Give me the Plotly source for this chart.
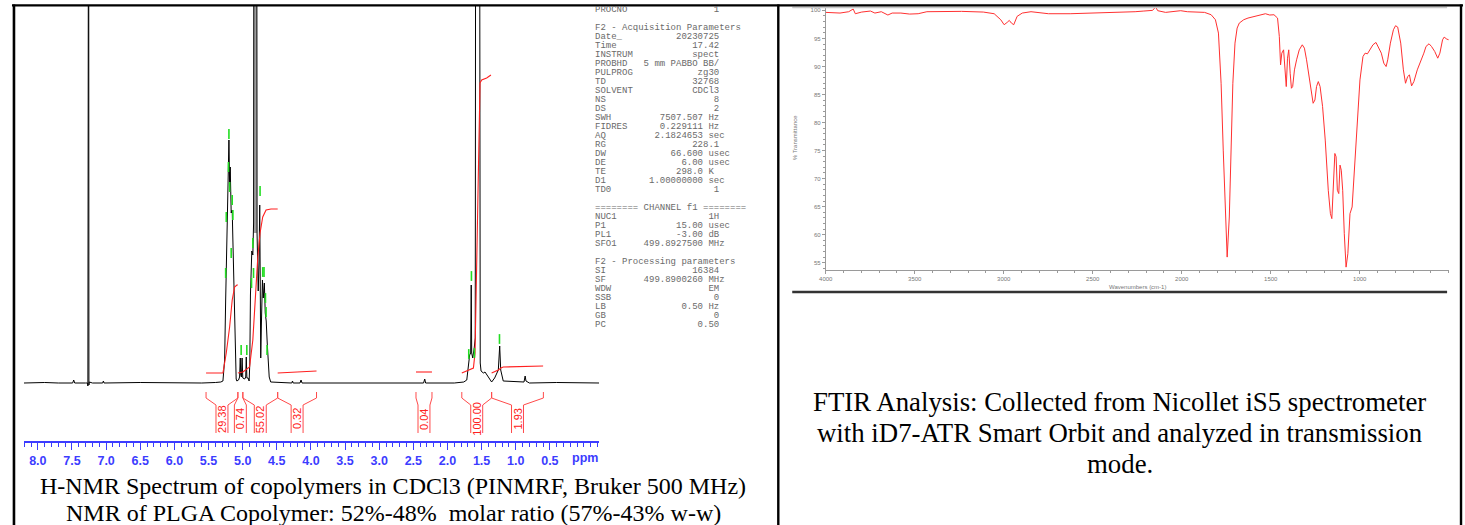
import plotly.graph_objects as go

W, H = 1465, 525

# ---------------- 1H-NMR spectrum (ppm, intensity) ----------------
nmr_ppm = [8.204, 7.90, 7.70, 7.49, 7.475, 7.46, 7.30, 7.272, 7.267, 7.263, 7.256, 7.252, 7.246,
           7.20, 7.05, 7.04, 7.03, 6.50, 6.00, 5.60, 5.40, 5.32, 5.289, 5.264, 5.249, 5.230,
           5.216, 5.201, 5.191, 5.182, 5.168, 5.153, 5.143, 5.133, 5.118, 5.103, 5.095, 5.085,
           5.06, 5.045, 5.035, 5.028, 5.018, 5.008, 4.998, 4.97, 4.955, 4.947, 4.938, 4.92,
           4.905, 4.895, 4.886, 4.866, 4.851, 4.840, 4.833, 4.795,
           4.789, 4.772, 4.760, 4.750, 4.742, 4.735, 4.725, 4.710, 4.698, 4.682, 4.669,
           4.655, 4.640, 4.628, 4.611, 4.589, 4.40, 4.28, 4.27, 4.26, 4.16, 4.145, 4.13, 3.50,
           2.80, 2.35, 2.333, 2.32, 1.90, 1.761, 1.717, 1.692, 1.675, 1.660, 1.652, 1.645,
           1.630, 1.608, 1.593, 1.585, 1.532, 1.520, 1.508, 1.474, 1.450, 1.401, 1.353, 1.309,
           1.255, 1.235, 1.220, 1.183, 0.879, 0.862, 0.850, 0.80, 0.40, -0.222]
nmr_int = [0, 0.5, 0, 0, 3, 0, 0, 0, -3, 700, 700, -2, 1,
           0, 0, 2, 0, 0.5, 0, 0, 0.5, 1, 2, 23, 83, 156,
           206, 243, 200, 216, 170, 173, 143, 116, 83, 16, 4, 2,
           3, 6, 25, 8, 6, 25, 5, 4, 6, 26, 5, 5,
           2, 20, 88, 132, 128, 160, 700, 700,
           150, 92, 120, 178, 60, 25, 60, 103, 85, 100, 70,
           62, 40, 22, 6, 1, 0, 0, 2, 0, 0, 3, 0, 0,
           0.5, 0, 4, 0, 0, 1, 3, 20, 28, 30, 98, 30,
           25, 35, 45, 700, 700, 20, 12, 10, 11, 6, 1, 5,
           13, 37, 13, 2, 1, 7, 2, 0, 0.5, 0]

# dense (unresolved) tall band of the 4.8 ppm multiplet
band_ppm = [4.833, 4.833, 4.795, 4.795]
band_int = [150, 700, 700, 150]

# peak-pick marks
peak_ppm = [5.201, 5.208, 5.191, 5.153, 5.143, 5.240, 5.168, 5.249, 5.022, 4.939, 4.851,
            4.745, 4.706, 4.687, 4.841, 4.870, 4.666, 4.657, 4.643, 1.649, 1.688, 1.605, 1.238]
peak_int = [249, 216, 196, 183, 168, 166, 130, 110, 33, 33, 140,
            192, 111, 111, 110, 100, 85, 71, 33, 107, 29, 30, 44]

# integral curves (None separates regions)
integ_ppm = [5.536, 5.289, 5.240, 5.191, 5.153, 5.118, 5.085, 5.070, None,
             5.070, 4.997, None,
             4.997, 4.95, 4.899, 4.851, 4.818, 4.778, 4.745, 4.706, 4.657, 4.585, 4.487, None,
             4.487, 3.918, None,
             2.461, 2.227, None,
             1.790, 1.620, 1.596, 1.571, 1.547, 1.523, 1.499, 1.426, 1.363, None,
             1.353, 1.255, 1.217, 1.183, 0.599]
integ_val = [10, 10, 30, 56, 83, 96, 98, 98, None,
             10, 11, None,
             11, 13, 16, 43, 83, 126, 150, 166, 173, 174, 174, None,
             10, 12, None,
             11, 11, None,
             10, 15, 30, 123, 223, 300, 303, 305, 308, None,
             10, 13, 15, 16, 17]

region_left = [5.536, 5.070, 4.997, 4.487, 2.461, 1.790, 1.353]
region_right = [5.070, 4.997, 4.487, 3.918, 2.227, 1.353, 0.595]
region_value = ["29.38", "0.74", "55.02", "0.32", "0.04", "100.00", "1.93"]

nmr_tickvals = [8.0, 7.5, 7.0, 6.5, 6.0, 5.5, 5.0, 4.5, 4.0, 3.5, 3.0, 2.5, 2.0, 1.5, 1.0, 0.5]

# ---------------- acquisition / processing parameters ----------------
param_labels = ["PROCNO", "", "F2 - Acquisition Parameters", "Date_", "Time", "INSTRUM", "PROBHD",
                "PULPROG", "TD", "SOLVENT", "NS", "DS", "SWH", "FIDRES", "AQ", "RG", "DW", "DE",
                "TE", "D1", "TD0", "", "======== CHANNEL f1 ========", "NUC1", "P1", "PL1", "SFO1",
                "", "F2 - Processing parameters", "SI", "SF", "WDW", "SSB", "LB", "GB", "PC"]
param_values = ["1", "", "", "20230725", "17.42", "spect", "5 mm PABBO BB/",
                "zg30", "32768", "CDCl3", "8", "2", "7507.507", "0.229111", "2.1824653", "228.1",
                "66.600", "6.00", "298.0", "1.00000000", "1", "", "", "1H", "15.00", "-3.00",
                "499.8927500", "", "", "16384", "499.8900260", "EM", "0", "0.50", "0", "0.50"]
param_units = ["", "", "", "", "", "", "", "", "", "", "", "", "Hz", "Hz", "sec", "", "usec", "usec",
               "K", "sec", "", "", "", "", "usec", "dB", "MHz", "", "", "", "MHz", "", "", "Hz", "", ""]

# ---------------- FTIR spectrum ----------------
ftir_wn = [4000, 3968, 3920, 3871, 3846, 3834, 3798, 3749, 3724, 3688, 3651, 3627, 3578, 3529, 3481,
           3432, 3359, 3237, 3115, 3054, 3017, 2998, 2981, 2969, 2957, 2944, 2925, 2896, 2847, 2798,
           2749, 2627, 2506, 2384, 2262, 2213, 2164, 2147, 2135, 2091, 2042, 2006, 1969, 1872, 1835,
           1811, 1794, 1779, 1767, 1755, 1745, 1733, 1725, 1713, 1701, 1689, 1677, 1652, 1628, 1591,
           1555, 1530, 1506, 1482, 1462, 1452, 1445, 1438, 1428, 1421, 1413, 1406, 1399, 1391, 1384,
           1377, 1367, 1355, 1340, 1323, 1311, 1299, 1287, 1274, 1262, 1252, 1243, 1233, 1223, 1209,
           1194, 1177, 1165, 1157, 1148, 1140, 1133, 1126, 1118, 1111, 1104, 1096, 1087, 1077, 1067,
           1055, 1043, 1031, 1018, 999, 982, 970, 957, 945, 926, 909, 896, 879, 865, 852,
           843, 828, 811, 799, 787, 770, 755, 743, 731, 721, 709, 696, 677, 657, 640,
           628, 611, 597, 579, 562, 550, 535, 526, 511, 500]
ftir_t = [99.64, 99.64, 99.52, 99.76, 100.24, 99.40, 99.70, 99.88, 99.52, 99.76, 99.17, 99.52, 99.52, 99.34, 99.40,
          99.76, 99.82, 99.82, 99.70, 99.40, 98.33, 97.44, 97.85, 98.21, 97.73, 97.44, 98.93, 99.52, 99.76, 99.52,
          99.40, 99.40, 99.52, 99.52, 99.76, 99.88, 100.0, 100.6, 99.94, 99.64, 99.88, 99.94, 99.76, 99.64, 99.22,
          98.33, 95.95, 87.0, 75.08, 63.15, 56.00, 63.15, 75.08, 87.0, 94.16, 96.84, 97.73, 98.33, 98.63, 98.93,
          99.22, 99.40, 99.17, 99.22, 98.63, 95.35, 90.28, 92.37, 92.96, 89.98, 86.41, 91.47, 92.96, 88.79, 86.11,
          86.41, 89.39, 91.18, 92.96, 93.86, 93.26, 91.18, 88.79, 85.81, 83.43, 84.02, 86.41, 87.30, 86.41, 82.83,
          76.87, 67.92, 63.75, 62.86, 68.52, 74.48, 73.89, 67.92, 67.33, 72.40, 71.50, 67.92, 60.17, 54.21, 56.60,
          63.75, 64.94, 70.91, 79.25, 87.60, 91.77, 92.37, 92.25, 92.96, 93.86, 94.28, 93.56, 92.37, 90.58, 89.98,
          91.18, 94.16, 96.54, 97.26, 97.02, 94.16, 89.39, 87.00, 88.20, 88.49, 86.53, 87.30, 89.39, 90.88, 92.37,
          93.56, 94.04, 93.56, 92.67, 91.47, 92.37, 94.75, 95.23, 94.87, 94.75]
ftir_xticks = [4000, 3500, 3000, 2500, 2000, 1500, 1000]
ftir_yticks = [55, 60, 65, 70, 75, 80, 85, 90, 95, 100]

caption_nmr = ["H-NMR Spectrum of copolymers in CDCl3 (PINMRF, Bruker 500 MHz)",
               "NMR of PLGA Copolymer: 52%-48%\u00a0\u00a0molar ratio (57%-43% w-w)"]
caption_ftir = ["FTIR Analysis: Collected from Nicollet iS5 spectrometer",
                "with iD7-ATR Smart Orbit and analyzed in transmission",
                "mode."]


def px(x):
    return x / W


def py(y):
    return 1 - y / H


BLUE = "#3c3cff"
RED = "#ff2020"
SERIF = "Liberation Serif, Times New Roman, serif"
SANS = "Liberation Sans, Arial, sans-serif"

fig = go.Figure()

# grey band of the unresolved tall multiplet
fig.add_trace(go.Scatter(x=band_ppm, y=band_int, mode="lines", fill="toself", fillcolor="#9c9c9c",
                         xaxis="x", yaxis="y", line=dict(color="#9c9c9c", width=0.5), hoverinfo="skip"))
# NMR spectrum
fig.add_trace(go.Scatter(x=nmr_ppm, y=nmr_int, mode="lines", xaxis="x", yaxis="y",
                         line=dict(color="black", width=1), hoverinfo="skip"))
# integrals
fig.add_trace(go.Scatter(x=integ_ppm, y=integ_val, mode="lines", xaxis="x", yaxis="y",
                         line=dict(color=RED, width=1.1), hoverinfo="skip"))
# integral brackets
d = 0.0875
bx, by = [], []
for L, R in zip(region_left, region_right):
    c = (L + R) / 2
    bx += [L, L, c + d, c + d, None, R, R, c - d, c - d, None]
    by += [-9, -15, -22, -50, None, -9, -15, -22, -50, None]
fig.add_trace(go.Scatter(x=bx, y=by, mode="lines", xaxis="x", yaxis="y",
                         line=dict(color="#ff4a4a", width=1), hoverinfo="skip"))
# peak picks
fig.add_trace(go.Scatter(x=peak_ppm, y=peak_int, mode="markers", xaxis="x", yaxis="y",
                         marker=dict(symbol="line-ns", size=7, line=dict(color="#22dd22", width=1.6)),
                         hoverinfo="skip"))
# FTIR
fig.add_trace(go.Scatter(x=ftir_wn, y=ftir_t, mode="lines", xaxis="x2", yaxis="y2",
                         line=dict(color="#ff3030", width=1), hoverinfo="skip"))

ann = []
for L, R, v in zip(region_left, region_right, region_value):
    ann.append(dict(x=(L + R) / 2, y=-36, xref="x", yref="y", text=v, textangle=-90, showarrow=False,
                    xanchor="center", yanchor="middle",
                    font=dict(family=SANS, size=11, color="#ff2020")))
ann.append(dict(x=px(581), y=py(458), xref="paper", yref="paper", text="ppm", showarrow=False,
                xanchor="center", yanchor="middle",
                font=dict(family=SANS, size=12.5, color=BLUE, weight="bold")))

# parameter list
for k, (lab, val, unit) in enumerate(zip(param_labels, param_values, param_units)):
    if val == "":
        line = lab
    else:
        end = 20 if unit else 23
        line = lab + " " * max(1, end - len(lab) - len(val)) + val + (" " + unit if unit else "")
    if not line:
        continue
    ann.append(dict(x=px(589), y=py(10 + 9 * k), xref="paper", yref="paper", xanchor="left",
                    yanchor="middle", text=line.replace(" ", "\u00a0"), showarrow=False,
                    font=dict(family="Liberation Mono, Courier New, monospace", size=9.0, color="#6a6a6a")))

# captions
for i, t in enumerate(caption_nmr):
    ann.append(dict(x=px(388), y=py(486 + 27 * i), xref="paper", yref="paper", text=t, showarrow=False,
                    xanchor="center", yanchor="middle",
                    font=dict(family=SERIF, size=24, color="black")))
for i, t in enumerate(caption_ftir):
    ann.append(dict(x=px(1118), y=py(402 + 31 * i), xref="paper", yref="paper", text=t, showarrow=False,
                    xanchor="center", yanchor="middle",
                    font=dict(family=SERIF, size=26.8, color="black")))

# FTIR axis titles
ann.append(dict(x=px(1136), y=py(287), xref="paper", yref="paper", text="Wavenumbers (cm-1)",
                xanchor="center", yanchor="middle",
                showarrow=False, font=dict(family=SANS, size=6, color="#777")))
ann.append(dict(x=px(792), y=py(138), xref="paper", yref="paper", text="% Transmittance", textangle=-90,
                xanchor="center", yanchor="middle",
                showarrow=False, font=dict(family=SANS, size=6, color="#777")))

shapes = []


def hline(x0, x1, y, w, color="black"):
    shapes.append(dict(type="line", xref="paper", yref="paper", x0=px(x0), x1=px(x1), y0=py(y), y1=py(y),
                       line=dict(color=color, width=w)))


def vline(x, y0, y1, w, color="black"):
    shapes.append(dict(type="line", xref="paper", yref="paper", x0=px(x), x1=px(x), y0=py(y0), y1=py(y1),
                       line=dict(color=color, width=w)))


hline(789, 1447, 7.5, 1.5, "#c8c8c8")
hline(789, 1447, 292, 2.5, "#333333")
hline(5, 1463, 5.3, 2.2)
vline(7, 4.5, 525, 2.6)
vline(775, 4.5, 525, 2.4)
vline(1461, 4.5, 525, 2.4)

AX2 = "#9a9a9a"
fig.update_layout(
    width=W, height=H, margin=dict(l=0, r=0, t=0, b=0),
    paper_bgcolor="white", plot_bgcolor="rgba(0,0,0,0)", showlegend=False,
    xaxis=dict(domain=[px(17), px(595)], range=[8.204, -0.222], anchor="y",
               showline=True, linecolor=BLUE, linewidth=1.5, ticks="outside", ticklen=7, tickwidth=1.3,
               tickcolor=BLUE, tickmode="array", tickvals=nmr_tickvals,
               ticktext=["%.1f" % v for v in nmr_tickvals],
               tickfont=dict(family=SANS, size=12.5, color=BLUE, weight="bold"),
               minor=dict(ticklen=4, tickmode="linear", tick0=0, dtick=0.1, tickcolor=BLUE, tickwidth=1),
               showgrid=False, zeroline=False, fixedrange=True),
    yaxis=dict(domain=[py(441), py(6)], range=[-58, 377], visible=False, fixedrange=True),
    xaxis2=dict(domain=[px(822.7), px(1448.7)], range=[4000, 500], anchor="y2",
                showline=True, linecolor=AX2, linewidth=1, ticks="outside", ticklen=3, tickcolor=AX2,
                tickmode="array", tickvals=ftir_xticks,
                tickfont=dict(family=SANS, size=6, color="#777"),
                minor=dict(ticklen=2, tickmode="linear", tick0=0, dtick=100, tickcolor=AX2),
                showgrid=False, zeroline=False, fixedrange=True),
    yaxis2=dict(domain=[py(270), py(7)], range=[53.7, 100.6], anchor="x2",
                showline=True, linecolor=AX2, linewidth=1, ticks="outside", ticklen=3, tickcolor=AX2,
                tickmode="array", tickvals=ftir_yticks,
                tickfont=dict(family=SANS, size=6, color="#777"),
                minor=dict(ticklen=2, tickmode="linear", tick0=0, dtick=1, tickcolor=AX2),
                showgrid=False, zeroline=False, fixedrange=True),
    annotations=ann, shapes=shapes,
)

fig.write_html("out.html", config={"displayModeBar": False},
               post_script="document.body.style.margin='0';document.body.style.overflow='hidden';")
